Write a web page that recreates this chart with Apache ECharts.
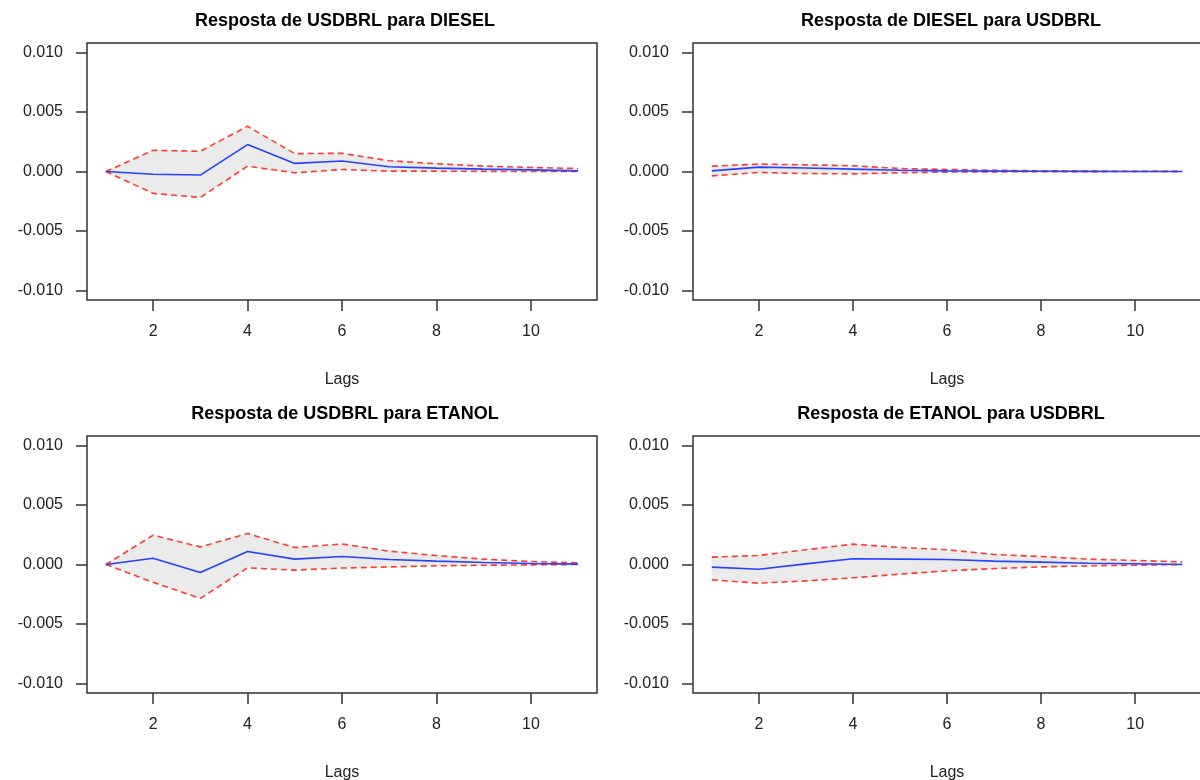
<!DOCTYPE html>
<html>
<head>
<meta charset="utf-8">
<script src="https://cdn.jsdelivr.net/npm/echarts@6/dist/echarts.min.js"></script>
<style>
  html, body { margin: 0; padding: 0; background: #fff; }
  #main { width: 1200px; height: 780px; }
</style>
</head>
<body>
<div id="main"></div>
<script>
// lags 1..11
let lags = [1, 2, 3, 4, 5, 6, 7, 8, 9, 10, 11];
let yTicks = [-0.01, -0.005, 0, 0.005, 0.01];
let xTicks = [2, 4, 6, 8, 10];

// Resposta de USDBRL para DIESEL
let irf1 = [0, -0.00023, -0.0003, 0.00226, 0.00068, 0.00088, 0.0004, 0.00028, 0.0002, 0.00014, 0.00005];
let upper1 = [0, 0.00178, 0.0017, 0.0038, 0.0015, 0.00153, 0.0009, 0.00065, 0.00045, 0.00034, 0.00025];
let lower1 = [0, -0.00184, -0.00218, 0.00045, -0.00011, 0.00017, 0.00003, 0.00003, 0.00001, 0, 0];

// Resposta de DIESEL para USDBRL
let irf2 = [0.00005, 0.00037, 0.0003, 0.0002, 0.0001, 0.00005, 0.00003, 0.00002, 0.00001, 0, 0];
let upper2 = [0.00045, 0.00062, 0.00056, 0.00048, 0.00025, 0.00017, 0.0001, 0.00006, 0.00003, 0.00002, 0.00001];
let lower2 = [-0.00037, -0.00008, -0.00017, -0.0002, -0.0001, -0.00005, -0.00003, -0.00002, -0.00001, 0, 0];

// Resposta de USDBRL para ETANOL
let irf3 = [0, 0.00053, -0.00067, 0.00109, 0.00045, 0.00067, 0.00042, 0.00028, 0.00017, 0.00008, 0.00003];
let upper3 = [0, 0.00246, 0.00148, 0.0026, 0.00142, 0.00173, 0.00112, 0.00075, 0.00045, 0.00025, 0.00014];
let lower3 = [0, -0.0015, -0.00285, -0.00028, -0.00047, -0.0003, -0.0002, -0.00011, -0.00006, -0.00003, 0];

// Resposta de ETANOL para USDBRL
let irf4 = [-0.00022, -0.0004, 0.00005, 0.00048, 0.00045, 0.00042, 0.00028, 0.0002, 0.0001, 0.00006, 0];
let upper4 = [0.00062, 0.00076, 0.00124, 0.00171, 0.00143, 0.00124, 0.00084, 0.00067, 0.00045, 0.00034, 0.00022];
let lower4 = [-0.00129, -0.00157, -0.00138, -0.00112, -0.00081, -0.00053, -0.00034, -0.0002, -0.00011, -0.00006, 0];

let titles = [
    'Resposta de USDBRL para DIESEL',
    'Resposta de DIESEL para USDBRL',
    'Resposta de USDBRL para ETANOL',
    'Resposta de ETANOL para USDBRL'
];
let panels = [
    [irf1, upper1, lower1],
    [irf2, upper2, lower2],
    [irf3, upper3, lower3],
    [irf4, upper4, lower4]
];

let font = "'Liberation Sans', Arial, Helvetica, sans-serif";
let chart = echarts.init(document.getElementById('main'));

// posicao de cada painel (os da direita passam da borda, como no original)
let boxLeft = [87, 693, 87, 693];
let boxTop = [43, 43, 436, 436];
let boxW = 508, boxH = 257;

let pairs = function (arr) {
    let res = [];
    for (let i = 0; i < lags.length; i++) res.push([lags[i], arr[i]]);
    return res;
};

//faixa cinza: um quadrilatero por segmento, via api.coord
let bandRender = function (up, lo) {
    return function (params, api) {
        let i = api.value(0);
        let pts = [
            api.coord([lags[i], lo[i]]),
            api.coord([lags[i + 1], lo[i + 1]]),
            api.coord([lags[i + 1], up[i + 1]]),
            api.coord([lags[i], up[i]])
        ];
        return {
            type: 'polygon',
            shape: { points: pts },
            style: { fill: '#ebebeb', stroke: '#ebebeb', lineWidth: 0.6 }
        };
    };
};

let grids = [], xAxes = [], yAxes = [], series = [], titleList = [];
for (let k = 0; k < 4; k++) {
    grids.push({
        left: boxLeft[k], top: boxTop[k], width: boxW + (k % 2 == 0 ? 2 : 0), height: boxH,
        outerBoundsMode: 'none', containLabel: false,
        show: true, borderColor: '#333', borderWidth: 1.5, backgroundColor: 'transparent'
    });
    titleList.push({
        text: titles[k],
        left: boxLeft[k] + boxW / 2 - 1,
        top: boxTop[k] - 36,
        textAlign: 'center',
        textStyle: { fontFamily: font, fontSize: 18, fontWeight: 'bold', color: '#000' }
    });
    xAxes.push({
        type: 'value', gridIndex: k, min: 0.6, max: 11.4,
        position: 'bottom',
        name: 'Lags', nameLocation: 'middle', nameGap: 72,
        nameTextStyle: { fontFamily: font, fontSize: 16, color: '#222' },
        axisLine: { show: false, onZero: false },
        axisTick: { show: true, length: 11, customValues: xTicks, lineStyle: { color: '#333', width: 1.5 } },
        axisLabel: {
            customValues: xTicks, margin: 24,
            fontFamily: font, fontSize: 16, color: '#222'
        },
        splitLine: { show: false }
    });
    yAxes.push({
        type: 'value', gridIndex: k, min: -0.0108, max: 0.0108,
        axisLine: { show: false, onZero: false },
        axisTick: { show: true, length: 11, customValues: yTicks, lineStyle: { color: '#333', width: 1.5 } },
        axisLabel: {
            customValues: yTicks, margin: 24,
            fontFamily: font, fontSize: 16, color: '#222',
            formatter: function (v) { return v.toFixed(3); }
        },
        splitLine: { show: false }
    });

    let irf = panels[k][0], up = panels[k][1], lo = panels[k][2];
    let segs = [];
    for (let i = 0; i < lags.length - 1; i++) segs.push([i]);

    series.push({
        type: 'custom', xAxisIndex: k, yAxisIndex: k, data: segs,
        renderItem: bandRender(up, lo), silent: true, z: 1,
        encode: { x: -1, y: -1 }
    });
    // limites
    series.push({
        type: 'line', xAxisIndex: k, yAxisIndex: k, data: pairs(up), symbol: 'none', z: 2,
        lineStyle: { color: '#ff3b30', width: 1.6, type: [6, 4] }
    });
    series.push({
        type: 'line', xAxisIndex: k, yAxisIndex: k, data: pairs(lo), symbol: 'none', z: 2,
        lineStyle: { color: '#ff3b30', width: 1.6, type: [6, 4] }
    });
    // resposta
    series.push({
        type: 'line', xAxisIndex: k, yAxisIndex: k, data: pairs(irf), symbol: 'none', z: 3,
        lineStyle: { color: '#2442ff', width: 1.6 }
    });
}

chart.setOption({
    backgroundColor: '#fff',
    animation: false,
    title: titleList,
    grid: grids,
    xAxis: xAxes,
    yAxis: yAxes,
    series: series
});
</script>
</body>
</html>
